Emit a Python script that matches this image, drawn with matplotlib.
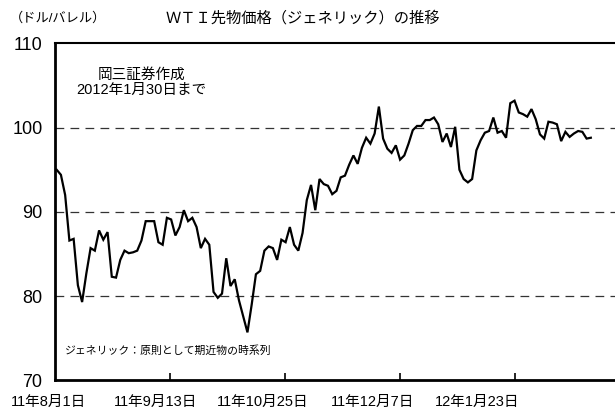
import matplotlib
matplotlib.use('Agg')
import matplotlib.pyplot as plt
import numpy as np

plt.rcParams['font.family'] = ['Liberation Sans', 'Noto Sans CJK JP', 'DejaVu Sans']

# WTI generic front-month, daily closes 2011/8/1 - 2012/1/30
wti = [
    95.0, 94.4, 92.0, 86.6, 86.8, 81.3, 79.3, 82.7, 85.7, 85.4,
    87.8, 86.7, 87.6, 82.3, 82.2, 84.3, 85.4, 85.1, 85.2, 85.4,
    86.6, 88.9, 88.9, 88.9, 86.4, 86.1, 89.3, 89.1, 87.2, 88.2,
    90.2, 88.9, 89.3, 88.2, 85.7, 86.8, 86.1, 80.5, 79.8, 80.3,
    84.5, 81.2, 82.0, 79.5, 77.6, 75.7, 79.0, 82.6, 83.0, 85.4,
    85.9, 85.7, 84.3, 86.7, 86.4, 88.2, 86.1, 85.4, 87.5, 91.4,
    93.2, 90.2, 93.9, 93.3, 93.1, 92.1, 92.5, 94.1, 94.3, 95.6,
    96.7, 95.7, 97.6, 98.8, 98.1, 99.3, 102.5, 98.7, 97.5, 97.0,
    97.9, 96.2, 96.7, 98.1, 99.7, 100.2, 100.2, 100.9, 100.9, 101.2,
    100.4, 98.3, 99.3, 97.7, 100.1, 95.0, 93.9, 93.5, 93.9, 97.3,
    98.5, 99.4, 99.6, 101.2, 99.4, 99.6, 98.8, 102.9, 103.2, 101.8,
    101.6, 101.3, 102.2, 101.0, 99.2, 98.7, 100.7, 100.6, 100.4, 98.4,
    99.5, 98.9, 99.3, 99.6, 99.5, 98.7, 98.8,
]
xlabels = ['11年8月1日', '11年9月13日', '11年10月25日', '11年12月7日', '12年1月23日']
yticks = [70, 80, 90, 100, 110]

# layout: where the original chart put its tick marks / labels (in day-index units)
label_pos = [-2.0, 23.4, 48.7, 74.4, 99.2]
mark_pos = [26.7, 53.9, 81.0, 108.2]

fig = plt.figure(figsize=(6.15, 4.12), dpi=100)
ax = fig.add_axes([0.0894, 0.0767, 0.9106, 0.818])

x = np.arange(len(wti))
ax.plot(x, wti, color='black', lw=1.6, solid_joinstyle='miter')

ax.set_xlim(-0.4, 131.7)
ax.set_ylim(70, 110)
ax.set_yticks(yticks)
ax.tick_params(axis='y', length=0, labelsize=13, pad=9)
for v in [80, 90, 100]:
    ax.axhline(v, color='#333333', lw=0.9, dashes=(7, 5), zorder=0)

# labels drawn as text so the first one (left of the axis) is not dropped
for pos, lab in zip(label_pos, xlabels):
    ax.annotate(lab, xy=(pos, 0), xycoords=('data', 'axes fraction'),
                xytext=(0, -22), textcoords='offset pixels',
                ha='center', va='center', fontsize=10.5, annotation_clip=False)
ax.set_xticks(mark_pos)
ax.set_xticklabels([])
ax.tick_params(axis='x', direction='in', length=5, width=1.2)

ax.spines['right'].set_visible(False)
ax.spines['left'].set_linewidth(2)
ax.spines['bottom'].set_linewidth(2)
ax.spines['top'].set_linewidth(1.5)

fig.text(0.0163, 0.956, '（ドル/バレル）', fontsize=9.5, va='center', ha='left')
fig.text(0.493, 0.956, 'ＷＴＩ先物価格（ジェネリック）の推移', fontsize=11, va='center', ha='center')

ax.text(0.155, 0.885, '岡三証券作成\n2012年1月30日まで', transform=ax.transAxes,
        fontsize=10.5, ha='center', va='center', linespacing=1.1)
ax.text(0.018, 0.088, 'ジェネリック：原則として期近物の時系列', transform=ax.transAxes,
        fontsize=7.8, ha='left', va='center')

fig.savefig('out.png', dpi=100)
